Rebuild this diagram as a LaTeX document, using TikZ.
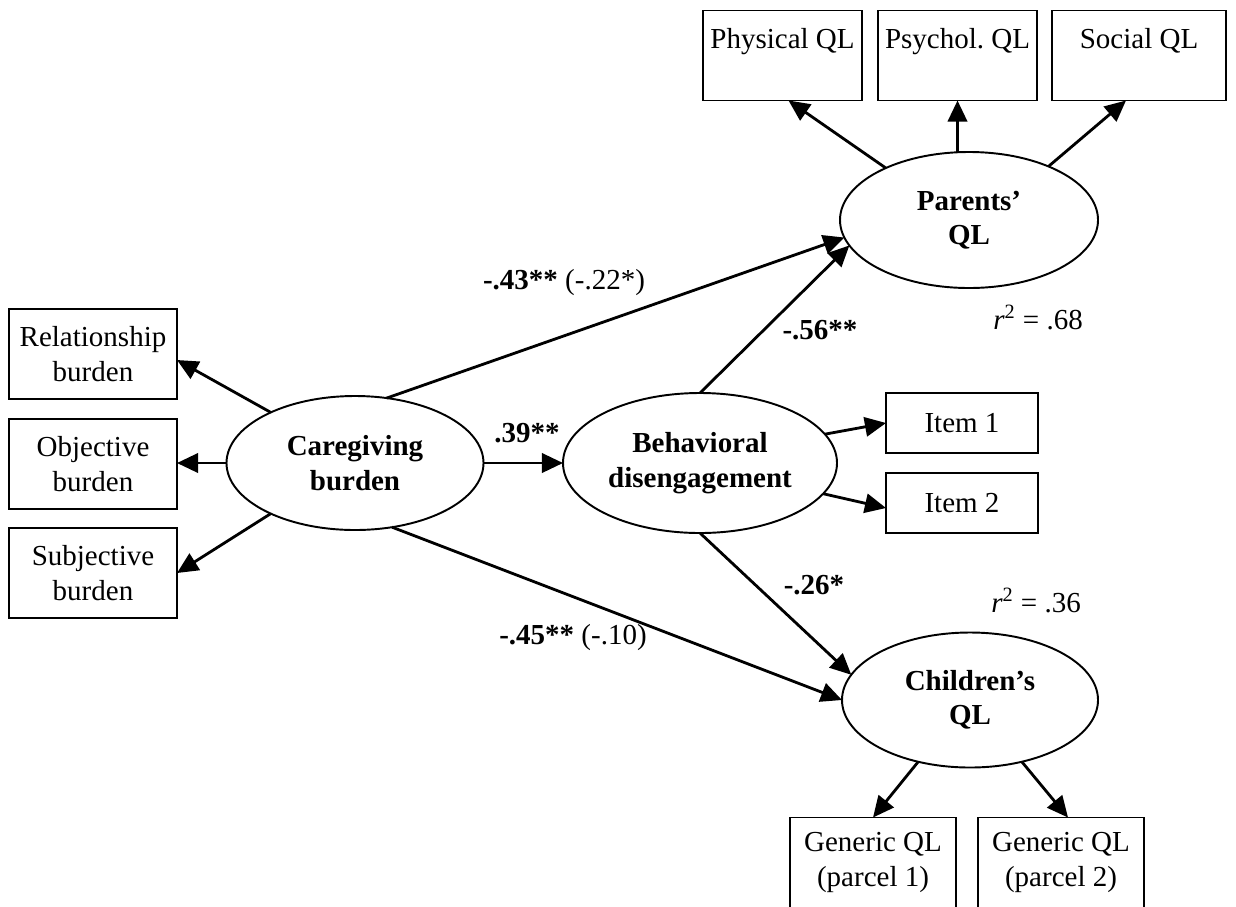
\documentclass[tikz,border=0pt]{standalone}
\usepackage{fontspec}
\setmainfont{Liberation Serif}
\usetikzlibrary{shapes.geometric,arrows.meta}

\tikzset{
  obs/.style={draw, rectangle, line width=1.1pt, align=center, inner sep=0pt, outer sep=0pt,
    minimum width=3.3cm, minimum height=1.8cm},
  lat/.style={draw, ellipse, line width=1.1pt, align=center, inner sep=0pt, outer sep=0pt,
    font=\fontsize{16.5}{19.5}\selectfont\bfseries},
  arr/.style={-{Triangle[length=12pt,width=11pt]}, line width=1.6pt},
}

\begin{document}
\begin{tikzpicture}[font=\fontsize{16.5}{19.5}\selectfont]
\useasboundingbox (0,0) rectangle (24.72,-18.12);

% indicators of parents' QL
\node[obs, minimum width=3.18cm] (phys) at (15.65,-1.11) {Physical QL\\\mbox{}};
\node[obs, minimum width=3.18cm] (psy) at (19.15,-1.11) {Psychol.\ QL\\\mbox{}};
\node[obs, minimum width=3.48cm] (soc) at (22.78,-1.11) {Social QL\\\mbox{}};
\node[lat, minimum width=5.16cm, minimum height=2.72cm] (parents) at (19.38,-4.40) {Parents'\\QL};

% caregiving burden
\node[obs, minimum width=3.36cm] (rel) at (1.86,-7.08) {Relationship\\burden};
\node[obs, minimum width=3.36cm] (obj) at (1.86,-9.28) {Objective\\burden};
\node[obs, minimum width=3.36cm] (subj) at (1.86,-11.46) {Subjective\\burden};
\node[lat, minimum width=5.14cm, minimum height=2.68cm] (care) at (7.10,-9.26) {Caregiving\\burden};

% mediator
\node[lat, minimum width=5.48cm, minimum height=2.8cm] (beh) at (14.0,-9.26) {Behavioral\\disengagement};
\node[obs, minimum width=3.04cm, minimum height=1.2cm] (item1) at (19.24,-8.46) {Item 1};
\node[obs, minimum width=3.04cm, minimum height=1.2cm] (item2) at (19.24,-10.06) {Item 2};

% children's QL
\node[lat, minimum width=5.12cm, minimum height=2.7cm] (child) at (19.40,-14.0) {Children's\\QL};
\node[obs, minimum width=3.32cm] (gen1) at (17.46,-17.25) {Generic QL\\(parcel 1)};
\node[obs, minimum width=3.32cm] (gen2) at (21.22,-17.25) {Generic QL\\(parcel 2)};

% measurement paths
\draw[arr] (parents.148) -- ([xshift=0.12cm]phys.south);
\draw[arr] (parents.north -| psy.south) -- (psy.south);
\draw[arr] (parents.34) -- ([xshift=-0.26cm]soc.south);
\draw[arr] (care.149) -- ([yshift=-0.12cm]rel.east);
\draw[arr] (care.west) -- (care.west -| obj.east);
\draw[arr] (care.211) -- (subj.east);
\draw[arr] (beh.13) -- (item1.west);
\draw[arr] (beh.-14) -- ([yshift=-0.1cm]item2.west);
\draw[arr] (child.230) -- (gen1.north);
\draw[arr] (child.310) -- ([xshift=0.14cm]gen2.north);

% structural paths
\draw[arr] (care.east) -- (beh.west);
\draw[arr] (care.64) -- (parents.188);
\draw[arr] (care.300) -- (child.west);
\draw[arr] (beh.north) -- (parents.192);
\draw[arr] (beh.south) -- (child.168);

% coefficients
\node (b43) at (11.28,-5.66) {\textbf{-.43**} (-.22*)};
\node (b39) at (10.54,-8.66) {\textbf{.39**}};
\node (b56) at (16.4,-6.6) {\textbf{-.56**}};
\node (r68) at (20.76,-6.34) {\textit{r}\textsuperscript{2} = .68};
\node (b26) at (16.28,-11.7) {\textbf{-.26*}};
\node (r36) at (20.72,-12.0) {\textit{r}\textsuperscript{2} = .36};
\node (b45) at (11.46,-12.76) {\textbf{-.45**} (-.10)};
\end{tikzpicture}
\end{document}
